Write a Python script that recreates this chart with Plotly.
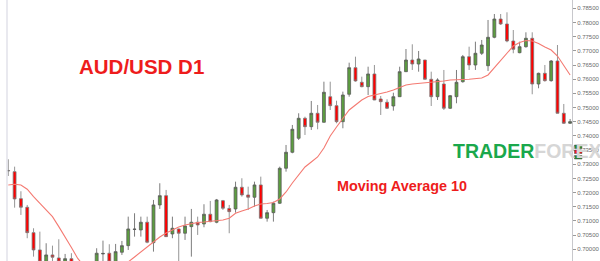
import plotly.graph_objects as go

# OHLC values (AUD/USD daily)
opens = [0.72781, 0.72739, 0.71787, 0.71484, 0.70588, 0.69978, 0.69520, 0.69802, 0.69696, 0.69555,
         0.69671, 0.69520, 0.68568, 0.68744, 0.69414, 0.69837, 0.69862, 0.69555, 0.69897, 0.70130,
         0.70701, 0.70683, 0.70955, 0.70235, 0.71565, 0.71893, 0.70542, 0.70718, 0.70567, 0.70800,
         0.70955, 0.70895, 0.71237, 0.70955, 0.71716, 0.71441, 0.71424, 0.72189, 0.71917, 0.71836,
         0.72270, 0.71096, 0.71293, 0.71625, 0.72859, 0.73423, 0.73917, 0.74622, 0.74326, 0.74798,
         0.74481, 0.75383, 0.75066, 0.74502, 0.75468, 0.76406, 0.75891, 0.75736, 0.76184, 0.75302,
         0.75186, 0.75055, 0.75383, 0.76265, 0.76677, 0.76536, 0.76677, 0.75997, 0.75383, 0.75831,
         0.74974, 0.75383, 0.75912, 0.76794, 0.76501, 0.76914, 0.76476, 0.77478, 0.78123, 0.77947,
         0.77347, 0.76935, 0.77146, 0.77443, 0.75831, 0.76208, 0.75948, 0.76642, 0.74798, 0.74445]
highs = [0.73176, 0.72915, 0.72048, 0.71565, 0.70743, 0.70623, 0.70214, 0.70130, 0.70355, 0.69837,
         0.69862, 0.69540, 0.68920, 0.69449, 0.70038, 0.70306, 0.70179, 0.70190, 0.70295, 0.71152,
         0.71272, 0.71152, 0.71152, 0.71741, 0.72330, 0.72094, 0.71152, 0.70729, 0.71152, 0.71424,
         0.71152, 0.71589, 0.71706, 0.71776, 0.71741, 0.71565, 0.72386, 0.72506, 0.72210, 0.72386,
         0.72563, 0.71388, 0.71681, 0.72915, 0.73680, 0.74386, 0.74798, 0.74678, 0.75232, 0.75091,
         0.75912, 0.75912, 0.75242, 0.75560, 0.76582, 0.76794, 0.76089, 0.76441, 0.76501, 0.75408,
         0.75292, 0.75524, 0.76441, 0.77065, 0.77231, 0.76995, 0.76680, 0.76265, 0.76032, 0.76325,
         0.75443, 0.76325, 0.76854, 0.77146, 0.77323, 0.77383, 0.78088, 0.78299, 0.78299, 0.78359,
         0.77735, 0.77323, 0.77654, 0.77654, 0.76230, 0.76501, 0.76677, 0.77206, 0.75126, 0.74597]
lows = [0.72587, 0.71469, 0.71212, 0.70391, 0.69742, 0.69343, 0.69379, 0.69555, 0.69414, 0.69449,
        0.69414, 0.68391, 0.68250, 0.68650, 0.69273, 0.69555, 0.69414, 0.69449, 0.69802, 0.69978,
        0.70447, 0.70447, 0.70214, 0.69918, 0.71424, 0.70440, 0.70391, 0.69520, 0.70331, 0.69742,
        0.70507, 0.70778, 0.70955, 0.70919, 0.71388, 0.70567, 0.71293, 0.71857, 0.71388, 0.71505,
        0.71090, 0.70976, 0.70976, 0.71600, 0.72739, 0.73388, 0.73857, 0.74033, 0.74209, 0.74234,
        0.74467, 0.74914, 0.74445, 0.74269, 0.75383, 0.75912, 0.75715, 0.75443, 0.75260, 0.74738,
        0.74950, 0.74890, 0.75380, 0.76260, 0.76325, 0.76265, 0.75990, 0.75055, 0.75267, 0.74914,
        0.74950, 0.75151, 0.75877, 0.76325, 0.76325, 0.76854, 0.76290, 0.77443, 0.77912, 0.77302,
        0.76914, 0.76914, 0.77111, 0.75468, 0.75680, 0.75912, 0.75912, 0.74790, 0.74421, 0.74421]
closes = [0.72771, 0.71776, 0.71484, 0.70588, 0.69978, 0.69555, 0.69802, 0.69721, 0.69555, 0.69671,
          0.69520, 0.68568, 0.68744, 0.69097, 0.69862, 0.69855, 0.69555, 0.69918, 0.70130, 0.70718,
          0.70711, 0.70955, 0.70250, 0.71565, 0.71893, 0.70447, 0.70743, 0.70567, 0.70824, 0.70955,
          0.70860, 0.71237, 0.70976, 0.71741, 0.71448, 0.71329, 0.72189, 0.71917, 0.71836, 0.72270,
          0.71096, 0.71293, 0.71625, 0.72859, 0.73423, 0.74234, 0.74622, 0.74326, 0.74798, 0.74481,
          0.75539, 0.75066, 0.74502, 0.75443, 0.76406, 0.75937, 0.75736, 0.76184, 0.75267, 0.75207,
          0.74974, 0.75383, 0.76265, 0.76677, 0.76536, 0.76713, 0.75997, 0.75383, 0.75972, 0.74974,
          0.75419, 0.75891, 0.76794, 0.76501, 0.76914, 0.77206, 0.77478, 0.78123, 0.77947, 0.77347,
          0.77055, 0.77146, 0.77443, 0.75831, 0.76208, 0.75948, 0.76642, 0.74798, 0.74445, 0.74502]
# Moving Average 10 line
ma10 = [0.72270, 0.72295, 0.72270, 0.72118, 0.71857, 0.71625, 0.71388, 0.71152, 0.70800, 0.70447,
        0.70066, 0.69678, 0.69414, 0.69273, 0.69202, 0.69202, 0.69273, 0.69343, 0.69449, 0.69555,
        0.69731, 0.69908, 0.70084, 0.70242, 0.70436, 0.70577, 0.70683, 0.70789, 0.70860, 0.70912,
        0.70948, 0.70965, 0.70983, 0.71011, 0.71036, 0.71096, 0.71272, 0.71353, 0.71424, 0.71529,
        0.71600, 0.71618, 0.71653, 0.71776, 0.72023, 0.72340, 0.72623, 0.72905, 0.73081, 0.73257,
        0.73575, 0.73998, 0.74315, 0.74597, 0.74914, 0.75091, 0.75267, 0.75390, 0.75443, 0.75479,
        0.75549, 0.75620, 0.75708, 0.75796, 0.75831, 0.75849, 0.75866, 0.75891, 0.75912, 0.75937,
        0.75972, 0.75990, 0.75990, 0.75997, 0.76008, 0.76043, 0.76149, 0.76395, 0.76677, 0.76924,
        0.77171, 0.77294, 0.77365, 0.77347, 0.77259, 0.77136, 0.77030, 0.76818, 0.76466, 0.76149]
days = list(range(len(opens)))

title_text = "AUD/USD D1"
ma_label = "Moving Average 10"

fig = go.Figure()
fig.add_trace(go.Candlestick(
    x=days, open=opens, high=highs, low=lows, close=closes,
    increasing=dict(fillcolor="#5c9e3f", line=dict(color="#5a5a5a", width=0.8)),
    decreasing=dict(fillcolor="#ff0000", line=dict(color="#7a7a7a", width=0.8)),
    whiskerwidth=0, showlegend=False, hoverinfo="skip",
))
fig.add_trace(go.Scatter(
    x=days, y=ma10, mode="lines", line=dict(color="#f47a72", width=1.1),
    showlegend=False, hoverinfo="skip",
))

W, H = 600, 261
ml, mr = 7, 25.5
pw = W - ml - mr

def px(xp):
    return (xp - ml) / pw

def py(yp):
    return 1 - yp / H

fig.update_layout(
    width=W, height=H,
    margin=dict(l=ml, r=mr, t=0, b=0, pad=0),
    paper_bgcolor="white", plot_bgcolor="white",
    boxgap=0.35,
    xaxis=dict(range=[-0.205, 89.3], visible=False, rangeslider=dict(visible=False), fixedrange=True),
    yaxis=dict(range=[0.69588, 0.78793], side="right", showgrid=False, zeroline=False,
               showline=True, linecolor="#c8c8cc", linewidth=1,
               ticks="outside", ticklen=3, tickcolor="#9a9a9a", tickwidth=1,
               tick0=0.7, dtick=0.005, tickformat=".5f",
               tickfont=dict(size=6, color="#6a6a6a", family="Liberation Sans, Arial, sans-serif")),
    font=dict(family="Liberation Sans, Arial, sans-serif"),
    showlegend=False,
)

# left border line
fig.add_shape(type="line", xref="paper", yref="paper", x0=0, x1=0, y0=0, y1=1,
              line=dict(color="#e2e2ea", width=1.5))

fig.add_annotation(text="<b>" + title_text + "</b>", xref="paper", yref="paper",
                   x=px(142), y=py(66), showarrow=False, xanchor="center", yanchor="middle",
                   font=dict(size=20.5, color="#ee1c1c"))
fig.add_annotation(text="<b>" + ma_label + "</b>", xref="paper", yref="paper",
                   x=px(404), y=py(186), showarrow=False, xanchor="center", yanchor="middle",
                   font=dict(size=14.4, color="#ee1c1c"))
fig.add_annotation(text="<b><span style='color:#1aa84c'>TRADER</span><span style='color:#d6d6d6'>FOREX</span></b>",
                   xref="paper", yref="paper", x=px(453), y=py(151), showarrow=False,
                   xanchor="left", yanchor="middle", font=dict(size=19.5))

# price markers on the axis
for (y0, y1, col) in [(145, 148.5, "#2e8a2e"), (150, 153.5, "#ee1c1c"), (155.5, 159, "#2e8a2e")]:
    fig.add_shape(type="rect", xref="paper", yref="paper", x0=px(577), x1=px(584.5),
                  y0=py(y1), y1=py(y0), fillcolor=col, line=dict(color="#404040", width=0.5))

fig.write_html("out.html")
